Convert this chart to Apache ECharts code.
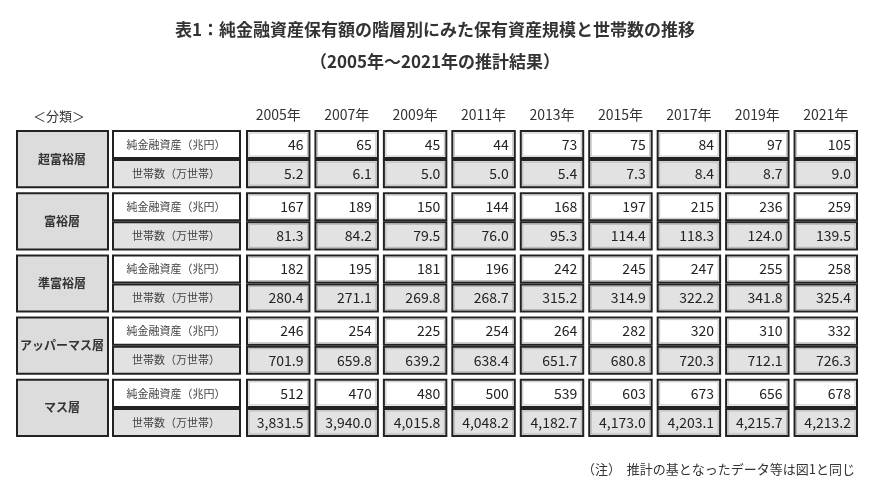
<!DOCTYPE html>
<html><head><meta charset="utf-8">
<script src="https://cdn.jsdelivr.net/npm/echarts@6/dist/echarts.min.js"></script>
<style>html,body{margin:0;background:#fff}#c{width:870px;height:491px}</style>
</head><body><div id="c"></div>
<script>
const years = ['2005年', '2007年', '2009年', '2011年', '2013年', '2015年', '2017年', '2019年', '2021年'];
const groups = ['超富裕層', '富裕層', '準富裕層', 'アッパーマス層', 'マス層'];
const rowLabels = ['純金融資産（兆円）', '世帯数（万世帯）'];
const assets = [
  [46, 65, 45, 44, 73, 75, 84, 97, 105],
  [167, 189, 150, 144, 168, 197, 215, 236, 259],
  [182, 195, 181, 196, 242, 245, 247, 255, 258],
  [246, 254, 225, 254, 264, 282, 320, 310, 332],
  [512, 470, 480, 500, 539, 603, 673, 656, 678]
];
const households = [
  ['5.2', '6.1', '5.0', '5.0', '5.4', '7.3', '8.4', '8.7', '9.0'],
  ['81.3', '84.2', '79.5', '76.0', '95.3', '114.4', '118.3', '124.0', '139.5'],
  ['280.4', '271.1', '269.8', '268.7', '315.2', '314.9', '322.2', '341.8', '325.4'],
  ['701.9', '659.8', '639.2', '638.4', '651.7', '680.8', '720.3', '712.1', '726.3'],
  ['3,831.5', '3,940.0', '4,015.8', '4,048.2', '4,182.7', '4,173.0', '4,203.1', '4,215.7', '4,213.2']
];

const rows = [];
groups.forEach((g, gi) => rowLabels.forEach((r, ri) => rows.push(gi + '-' + ri)));
const cells = [];
groups.forEach((g, gi) => {
  years.forEach((y, yi) => {
    cells.push([yi, gi * 2, String(assets[gi][yi]), 0, gi]);
    cells.push([yi, gi * 2 + 1, households[gi][yi], 1, gi]);
  });
});
const labelData = rows.map((r, i) => [0, i, Math.floor(i / 2), i % 2]);

const font = '"Noto Sans CJK JP", "Noto Sans", sans-serif';
const chart = echarts.init(document.getElementById('c'));
const gapShift = (gi, sub) => (sub === 0 ? -2 : 2) + gi * 0;

chart.setOption({
  animation: false,
  title: [
    { text: '表1：純金融資産保有額の階層別にみた保有資産規模と世帯数の推移', left: 'center', top: 16,
      textStyle: { fontFamily: font, fontSize: 17, fontWeight: 'bold', color: '#333' } },
    { text: '（2005年～2021年の推計結果）', left: 'center', top: 48,
      textStyle: { fontFamily: font, fontSize: 17, fontWeight: 'bold', color: '#333' } },
    { text: '（注）  推計の基となったデータ等は図1と同じ', right: 10, top: 458,
      textStyle: { fontFamily: font, fontSize: 13, fontWeight: 'normal', color: '#333' } },
    { text: '＜分類＞', left: 28, top: 105,
      textStyle: { fontFamily: font, fontSize: 13, fontWeight: 'normal', color: '#333' } }
  ],
  grid: { left: 244, right: 10, top: 128, bottom: 52 },
  xAxis: {
    type: 'category', data: years, position: 'top',
    axisLine: { show: false }, axisTick: { show: false },
    axisLabel: { fontFamily: font, fontSize: 14, color: '#333', margin: 6 }
  },
  yAxis: { type: 'category', data: rows, inverse: true, show: false },
  series: [
    {
      type: 'custom', data: cells, encode: { x: 0, y: 1 },
      renderItem: (params, api) => {
        const p = api.coord([api.value(0), api.value(1)]);
        const s = api.size([1, 1]);
        const sub = api.value(3);
        const w = s[0] - 6, h = s[1] - 4;
        const x = p[0] - w / 2, y = p[1] - h / 2 + (sub === 0 ? 1 : -1);
        return {
          type: 'group', children: [
            { type: 'rect', shape: { x, y, width: w, height: h },
              style: { fill: sub ? '#e2e2e2' : '#fff', stroke: '#222', lineWidth: 2 } },
            { type: 'rect', shape: { x: x + 2, y: y + 2, width: w - 4, height: h - 4 },
              style: { fill: 'none', stroke: '#999', lineWidth: 0.6 } },
            { type: 'text', style: { x: x + w - 6, y: p[1] + (sub === 0 ? 1 : -1), text: cells[params.dataIndex][2],
              align: 'right', verticalAlign: 'middle', fontFamily: font, fontSize: 14, fill: '#222' } }
          ]
        };
      }
    },
    {
      type: 'custom', data: labelData, encode: { y: 1 },
      renderItem: (params, api) => {
        const p = api.coord([0, api.value(1)]);
        const s = api.size([1, 1]);
        const gi = api.value(2), sub = api.value(3);
        const h = s[1] - 4;
        const y = p[1] - h / 2 + (sub === 0 ? 1 : -1);
        const children = [
          { type: 'rect', shape: { x: 113, y, width: 127, height: h },
            style: { fill: sub ? '#e2e2e2' : '#fff', stroke: '#222', lineWidth: 2 } },
          { type: 'text', style: { x: 176, y: y + h / 2, text: rowLabels[sub], align: 'center', verticalAlign: 'middle',
            fontFamily: font, fontSize: 11, fill: '#444' } }
        ];
        if (sub === 0) {
          const gh = s[1] * 2 - 6;
          children.push(
            { type: 'rect', shape: { x: 17, y, width: 91, height: gh },
              style: { fill: '#dcdcdc', stroke: '#222', lineWidth: 2 } },
            { type: 'text', style: { x: 62, y: y + gh / 2, text: groups[gi], align: 'center', verticalAlign: 'middle',
              fontFamily: font, fontSize: 12, fontWeight: 'bold', fill: '#333' } }
          );
        }
        return { type: 'group', children };
      }
    }
  ]
});
</script></body></html>
